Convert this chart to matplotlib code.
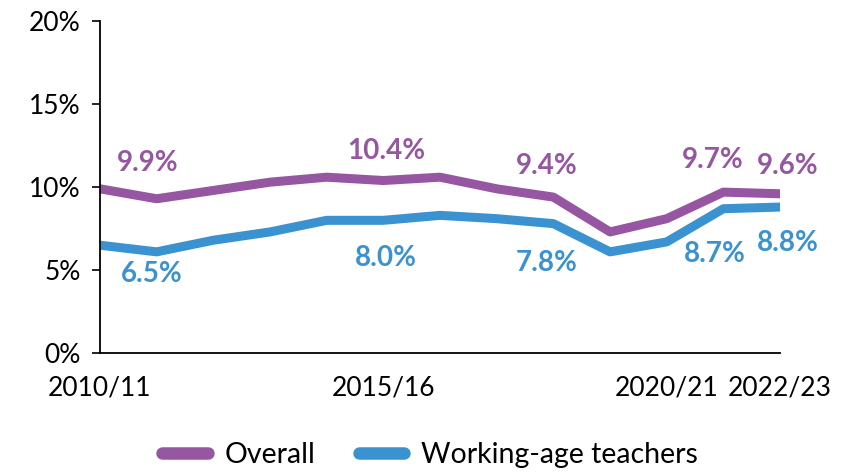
import matplotlib.pyplot as plt

# данные
years = ['2010/11', '2011/12', '2012/13', '2013/14', '2014/15', '2015/16', '2016/17',
         '2017/18', '2018/19', '2019/20', '2020/21', '2021/22', '2022/23']
overall = [9.9, 9.3, 9.8, 10.3, 10.6, 10.4, 10.6, 9.9, 9.4, 7.3, 8.1, 9.7, 9.6]
working_age = [6.5, 6.1, 6.8, 7.3, 8.0, 8.0, 8.3, 8.1, 7.8, 6.1, 6.7, 8.7, 8.8]
shown_years = ['2010/11', '2015/16', '2020/21', '2022/23']
overall_labels = {0: '9.9%', 5: '10.4%', 8: '9.4%', 11: '9.7%', 12: '9.6%'}
working_labels = {0: '6.5%', 5: '8.0%', 8: '7.8%', 11: '8.7%', 12: '8.8%'}

purple = '#9656A1'
blue = '#3B92D1'
plt.rcParams['font.family'] = ['Lato', 'DejaVu Sans']

fig = plt.figure(figsize=(8.47, 4.72), dpi=100)
ax = fig.add_axes([0.118, 0.252, 0.803, 0.703])

x = list(range(len(years)))
ax.plot(x, overall, color=purple, lw=6.5, solid_capstyle='round', solid_joinstyle='round', label='Overall')
ax.plot(x, working_age, color=blue, lw=6.5, solid_capstyle='round', solid_joinstyle='round',
        label='Working-age teachers')

# подписи значений (смещения в пикселях)
off_o = {0: (48, 26), 5: (3, 30), 8: (-7, 31), 11: (-11, 32), 12: (8, 28)}
off_w = {0: (52, -29), 5: (3, -38), 8: (-7, -39), 11: (-9, -45), 12: (8, -36)}
for i, t in overall_labels.items():
    ax.annotate(t, (x[i], overall[i]), xytext=off_o[i], textcoords='offset pixels',
                ha='center', va='center', color=purple, fontsize=20, fontweight='bold')
for i, t in working_labels.items():
    ax.annotate(t, (x[i], working_age[i]), xytext=off_w[i], textcoords='offset pixels',
                ha='center', va='center', color=blue, fontsize=20, fontweight='bold')

ax.set_xlim(0, len(years) - 1)
ax.set_ylim(0, 20)
ax.set_yticks([0, 5, 10, 15, 20])
ax.set_yticklabels(['0%', '5%', '10%', '15%', '20%'])
ax.set_xticks([years.index(y) for y in shown_years])
ax.set_xticklabels(shown_years)
ax.tick_params(axis='x', length=0, pad=16, labelsize=19)
ax.tick_params(axis='y', length=6, width=1.2, pad=8, labelsize=19)
for s in ['top', 'right']:
    ax.spines[s].set_visible(False)
for s in ['left', 'bottom']:
    ax.spines[s].set_linewidth(1.3)
ax.spines['bottom'].set_bounds(0, len(years) - 1)

leg = fig.legend(loc='lower center', bbox_to_anchor=(0.508, -0.045), ncol=2, frameon=False,
                 fontsize=20.5, handlelength=1.6, columnspacing=1.5, handletextpad=0.6)
for h in leg.get_lines():
    h.set_solid_capstyle('round')
    h.set_linewidth(9)

fig.savefig('out.png', dpi=100)
